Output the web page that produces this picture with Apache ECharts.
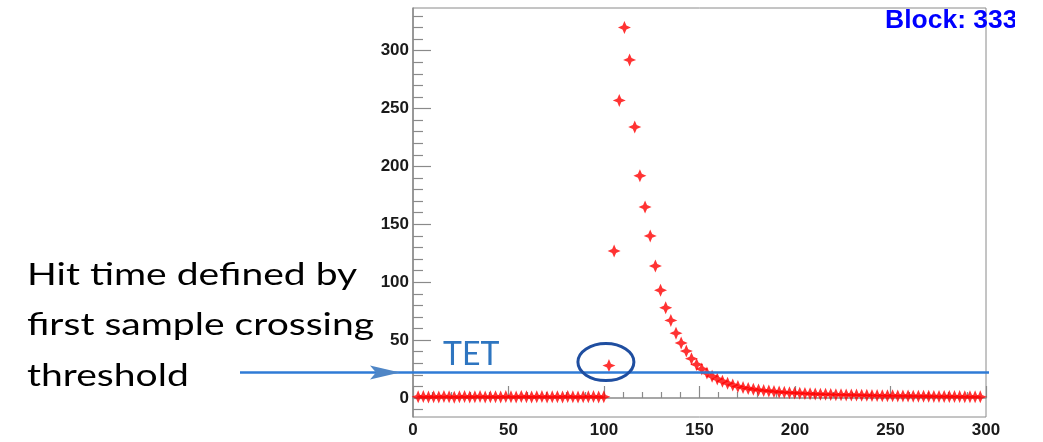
<!DOCTYPE html>
<html>
<head>
<meta charset="utf-8">
<script src="https://cdn.jsdelivr.net/npm/echarts@6/dist/echarts.min.js"></script>
<style>
html,body{margin:0;padding:0;background:#fff;}
#main{width:1043px;height:442px;}
</style>
</head>
<body>
<div id="main"></div>
<script>
// ---- data ----
const sampleTimes = [2.7, 5.4, 8.1, 10.8, 13.5, 16.2, 18.9, 21.6, 24.3, 27, 29.7, 32.4, 35.1, 37.8, 40.5, 43.2, 45.9, 48.6, 51.3, 54, 56.7, 59.4, 62.1, 64.8, 67.5, 70.2, 72.9, 75.6, 78.3, 81, 83.7, 86.4, 89.1, 91.8, 94.5, 97.2, 99.9, 102.6, 105.3, 108, 110.7, 113.4, 116.1, 118.8, 121.5, 124.2, 126.9, 129.6, 132.3, 135, 137.7, 140.4, 143.1, 145.8, 148.5, 151.2, 153.9, 156.6, 159.3, 162, 164.7, 167.4, 170.1, 172.8, 175.5, 178.2, 180.9, 183.6, 186.3, 189, 191.7, 194.4, 197.1, 199.8, 202.5, 205.2, 207.9, 210.6, 213.3, 216, 218.7, 221.4, 224.1, 226.8, 229.5, 232.2, 234.9, 237.6, 240.3, 243, 245.7, 248.4, 251.1, 253.8, 256.5, 259.2, 261.9, 264.6, 267.3, 270, 272.7, 275.4, 278.1, 280.8, 283.5, 286.2, 288.9, 291.6, 294.3, 297];
const sampleValues = [
  1.0, 1.2, 0.8, 1.1, 0.9, 1.3, 1.0, 0.7, 1.1, 1.2, 0.9, 1.0, 1.4, 0.8, 1.0, 1.1, 0.9, 1.2, 1.0, 0.8, 1.3, 1.0, 0.9, 1.1, 1.2, 0.8, 1.0, 1.1, 0.9, 1.3, 1.0, 0.8, 1.1, 1.0, 1.2, 0.9, 1.0,
  28, 127, 257, 320, 292, 234, 192, 165, 140, 114, 93, 78, 67, 56, 47.5, 40.5, 34, 29, 25, 21.5, 18.8, 16.5, 14.5,
  12.7, 11.2, 10.0, 9.0, 8.2, 7.5, 6.9, 6.4, 6.0, 5.6, 5.2, 4.9, 4.6, 4.4, 4.1, 3.9, 3.7, 3.5, 3.3, 3.2,
  3.0, 2.9, 2.8, 2.7, 2.6, 2.5, 2.4, 2.3, 2.2, 2.1, 2.0, 2.0, 1.9, 1.8, 1.8, 1.7, 1.6, 1.6, 1.5, 1.5,
  1.4, 1.4, 1.3, 1.3, 1.2, 1.2, 1.1, 1.1, 1.0, 1.0
];
const yMajorTicks = [0, 50, 100, 150, 200, 250, 300];
const yMinorTicks = [-10, 10, 20, 30, 40, 60, 70, 80, 90, 110, 120, 130, 140, 160, 170, 180, 190, 210, 220, 230, 240, 260, 270, 280, 290, 310, 320, 330];
const thresholdValue = 22;          // TET level
const circledSample = [101, 31];    // centre of the highlight ellipse (data coords)
const titleText = 'Block: 333';
const thresholdLabel = 'TET';
const noteLines = ['Hit time defined by', 'first sample crossing', 'threshold'];

// ---- chart ----
const chart = echarts.init(document.getElementById('main'), null, {renderer: 'canvas'});
const points = sampleTimes.map((t, i) => [t, sampleValues[i]]);
const axisGray = '#8a8a8a';
const labelFont = {fontFamily: 'Liberation Sans, Arial, sans-serif', fontWeight: 'bold', fontSize: 17, color: '#1a1a1a'};
const Y_MIN = -16.4, Y_MAX = 336.8;

chart.setOption({
  animation: false,
  backgroundColor: '#fff',
  grid: {left: 413, right: 57, top: 8, bottom: 25, show: true, borderColor: axisGray, borderWidth: 1, backgroundColor: 'transparent'},
  xAxis: {
    type: 'value', min: 0, max: 300, interval: 50,
    axisLine: {show: true, lineStyle: {color: axisGray, width: 1.5}},
    axisTick: {show: true, inside: true, length: 12, lineStyle: {color: axisGray, width: 1.2}},
    minorTick: {show: true, splitNumber: 5, length: 6, lineStyle: {color: axisGray, width: 1.2}},
    axisLabel: Object.assign({margin: 5}, labelFont),
    splitLine: {show: false}
  },
  yAxis: [{
    type: 'value', min: Y_MIN, max: Y_MAX,
    axisLine: {show: true, lineStyle: {color: axisGray, width: 1.5}},
    axisTick: {show: true, inside: true, length: 18, customValues: yMajorTicks, lineStyle: {color: axisGray, width: 1.2}},
    axisLabel: Object.assign({margin: 4, customValues: yMajorTicks}, labelFont),
    splitLine: {show: false}
  }, {
    type: 'value', min: Y_MIN, max: Y_MAX, position: 'left',
    axisLine: {show: false},
    axisTick: {show: true, inside: true, length: 10, customValues: yMinorTicks, lineStyle: {color: axisGray, width: 1.2}},
    axisLabel: {show: false},
    splitLine: {show: false}
  }],
  series: [{
    type: 'scatter',
    data: points,
    symbol: 'path://M0,-10L3,-3L10,0L3,3L0,10L-3,3L-10,0L-3,-3Z',
    symbolSize: 13,
    itemStyle: {color: '#ff0000'},
    z: 5
  }]
});

const yT = chart.convertToPixel({yAxisIndex: 0}, thresholdValue);
const circ = chart.convertToPixel({xAxisIndex: 0, yAxisIndex: 0}, circledSample);
const noteFont = 'Lato, "Open Sans", sans-serif';

chart.setOption({
  graphic: [
    {type: 'line', shape: {x1: 240, y1: yT, x2: 989, y2: yT}, style: {stroke: '#2f7bd6', lineWidth: 2.5}, z: 10},
    {type: 'polygon', shape: {points: [[370, yT - 7], [400, yT], [370, yT + 7], [376, yT]]}, style: {fill: '#4f86c6'}, z: 11},
    {type: 'text', x: 443, y: yT - 18, style: {text: thresholdLabel, font: '32px ' + noteFont, fill: '#2e75c0', verticalAlign: 'middle', align: 'left'}, z: 11},
    {type: 'ellipse', shape: {cx: circ[0], cy: circ[1], rx: 28, ry: 18.5}, style: {stroke: '#1f4ea0', lineWidth: 3, fill: null}, z: 12},
    {type: 'text', x: 27, y: 275, scaleX: 1.26, style: {text: noteLines[0], font: '31px ' + noteFont, fill: '#000', verticalAlign: 'middle'}, z: 11},
    {type: 'text', x: 27, y: 325, scaleX: 1.26, style: {text: noteLines[1], font: '31px ' + noteFont, fill: '#000', verticalAlign: 'middle'}, z: 11},
    {type: 'text', x: 27, y: 376, scaleX: 1.26, style: {text: noteLines[2], font: '31px ' + noteFont, fill: '#000', verticalAlign: 'middle'}, z: 11},
    {type: 'text', x: 885, y: 21.5, scaleX: 1.06, style: {text: titleText, font: 'bold 25px "Liberation Sans", Arial, sans-serif', fill: '#0000ff', verticalAlign: 'middle'}, z: 11},
    {type: 'rect', shape: {x: 1015, y: 0, width: 28, height: 442}, style: {fill: '#fff'}, z: 20}
  ]
});
</script>
</body>
</html>
